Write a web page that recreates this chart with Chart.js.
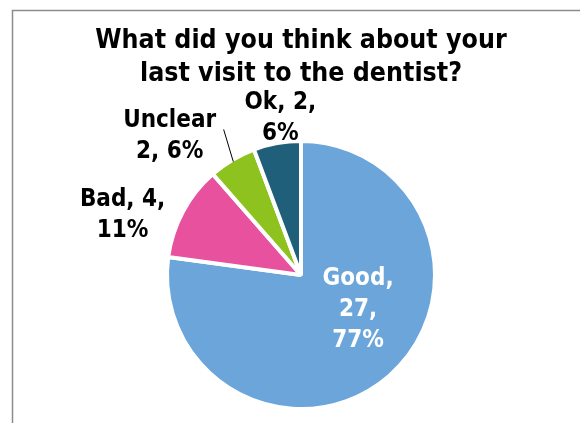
<!DOCTYPE html>
<html>
<head>
<meta charset="utf-8">
<script src="https://cdn.jsdelivr.net/npm/chart.js@4"></script>
<style>
  html, body { margin: 0; padding: 0; background: #fff; }
  #wrap { position: relative; width: 580px; height: 423px; }
</style>
</head>
<body>
<div id="wrap"><canvas id="chart_dentistVisit" width="580" height="423"></canvas></div>
<script>
// data
var answers = ['Good', 'Bad', 'Unclear', 'Ok'];
var counts = [27, 4, 2, 2];
var sliceColors = ['#6ba5da', '#e8519e', '#8dc21f', '#1f5f7a'];
var titleLines = ['What did you think about your', 'last visit to the dentist?'];

var total = counts.reduce(function (a, b) { return a + b; }, 0);
var percents = counts.map(function (v) { return Math.round(v / total * 100); });

var FONT = '"DejaVu Sans Condensed", "DejaVu Sans", sans-serif';

// how each label is broken into lines, and where it sits (radius factor + nudge)
var labelLayout = [
    { lines: function (i) { return [answers[i] + ',', counts[i] + ',', percents[i] + '%']; }, color: '#ffffff', f: 0.5, dx: 13, dy: -16 },
    { lines: function (i) { return [answers[i] + ', ' + counts[i] + ',', percents[i] + '%']; }, color: '#000000', f: 1.3, dx: -25, dy: 23 },
    { lines: function (i) { return [answers[i], counts[i] + ', ' + percents[i] + '%']; }, color: '#000000', f: 1.3, dx: -42, dy: 11, leader: { dx: 54, dy: -7 } },
    { lines: function (i) { return [answers[i] + ', ' + counts[i] + ',', percents[i] + '%']; }, color: '#000000', f: 1.2, dx: 8, dy: 1 }
];

var sliceLabels = {
    id: 'sliceLabels',
    afterDatasetsDraw: function (chart) {
        var ctx = chart.ctx;
        var meta = chart.getDatasetMeta(0);
        ctx.save();
        ctx.font = 'bold 24px ' + FONT;
        ctx.textAlign = 'center';
        ctx.textBaseline = 'middle';
        meta.data.forEach(function (arc, i) {
            var p = arc.getProps(['x', 'y', 'startAngle', 'endAngle', 'outerRadius'], true);
            var mid = (p.startAngle + p.endAngle) / 2;
            var lay = labelLayout[i];
            var cx = p.x + Math.cos(mid) * p.outerRadius * lay.f + lay.dx;
            var cy = p.y + Math.sin(mid) * p.outerRadius * lay.f + lay.dy;
            var lines = lay.lines(i);
            var lh = 31;
            var y0 = cy - (lines.length - 1) * lh / 2;
            ctx.fillStyle = lay.color;
            lines.forEach(function (t, k) {
                ctx.fillText(t, cx, y0 + k * lh);
            });
            if (lay.leader) {
                var ex = p.x + Math.cos(mid) * (p.outerRadius - 2);
                var ey = p.y + Math.sin(mid) * (p.outerRadius - 2);
                ctx.strokeStyle = '#000000';
                ctx.lineWidth = 1;
                ctx.beginPath();
                ctx.moveTo(cx + lay.leader.dx, cy + lay.leader.dy);
                ctx.lineTo(ex, ey);
                ctx.stroke();
            }
        });
        ctx.restore();
    }
};

var frame = {
    id: 'frame',
    beforeDraw: function (chart) {
        var ctx = chart.ctx;
        ctx.save();
        ctx.fillStyle = '#ffffff';
        ctx.fillRect(0, 0, chart.width, chart.height);
        ctx.strokeStyle = '#8c8c8c';
        ctx.lineWidth = 1.5;
        ctx.beginPath();
        ctx.moveTo(12.5, chart.height);
        ctx.lineTo(12.5, 10.5);
        ctx.lineTo(chart.width, 10.5);
        ctx.stroke();
        ctx.restore();
    }
};

var chart_dentistVisit = new Chart(document.getElementById('chart_dentistVisit'), {
    type: 'pie',
    data: {
        labels: answers,
        datasets: [{
            data: counts,
            backgroundColor: sliceColors,
            borderColor: '#ffffff',
            borderWidth: 4,
            radius: 134
        }]
    },
    options: {
        responsive: false,
        animation: false,
        layout: {
            padding: { left: 40, right: 18, top: 25, bottom: 23 }
        },
        plugins: {
            legend: { display: false },
            tooltip: { enabled: false },
            title: {
                display: true,
                text: titleLines,
                color: '#000000',
                font: { family: FONT, size: 26.5, weight: 'bold', lineHeight: '33px' },
                padding: { top: 0, bottom: 59 }
            }
        }
    },
    plugins: [frame, sliceLabels]
});
</script>
</body>
</html>
